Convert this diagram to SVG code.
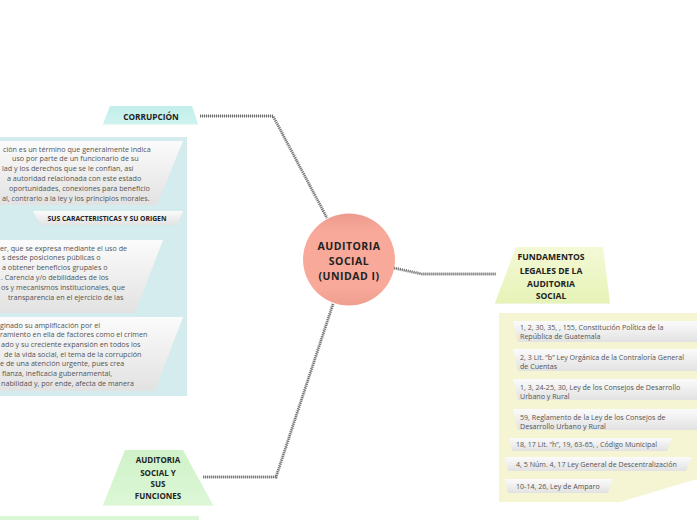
<svg xmlns="http://www.w3.org/2000/svg" width="697" height="520" viewBox="0 0 697 520">
<defs>
<linearGradient id="gBox" x1="0" y1="0" x2="0" y2="1"><stop offset="0" stop-color="#fbfbfb"/><stop offset="1" stop-color="#e2e2e2"/></linearGradient>
<linearGradient id="gCenter" x1="0" y1="0" x2="0" y2="1"><stop offset="0" stop-color="#ec9a8d"/><stop offset="0.2" stop-color="#f9a99a"/><stop offset="0.8" stop-color="#f9a99a"/><stop offset="1" stop-color="#ef9f90"/></linearGradient>
<linearGradient id="gCyan" x1="0" y1="0" x2="0" y2="1"><stop offset="0" stop-color="#c2eeea"/><stop offset="1" stop-color="#cff3ef"/></linearGradient>
<linearGradient id="gYel" x1="0" y1="0" x2="0" y2="1"><stop offset="0" stop-color="#f4f9d6"/><stop offset="1" stop-color="#e6f3b7"/></linearGradient>
<linearGradient id="gGrn" x1="0" y1="0" x2="0" y2="1"><stop offset="0" stop-color="#d0f2c9"/><stop offset="1" stop-color="#dcf7d6"/></linearGradient>
</defs>
<style>
.conn{fill:none;stroke:#6f6f6f;stroke-width:3;stroke-dasharray:1 1}
.conn2{fill:none;stroke:#b8b8b8;stroke-width:1}
.box{fill:url(#gBox)}
.t{font-family:"Open Sans","Noto Sans",sans-serif;font-size:7.2px;fill:#555}
.tr{font-family:"Open Sans","Noto Sans",sans-serif;font-size:7.1px;fill:#555}
.h{font-family:"Open Sans","Noto Sans",sans-serif;font-weight:bold;fill:#222;text-anchor:middle}
</style>
<g id="connectors">
<polyline class="conn2" points="200,116 273,116 327,218"/>
<polyline class="conn" points="200,116 273,116 327,218"/>
<polyline class="conn2" points="394,268 422,274 496,274"/>
<polyline class="conn" points="394,268 422,274 496,274"/>
<polyline class="conn2" points="333,304 276,477 203,477"/>
<polyline class="conn" points="333,304 276,477 203,477"/>
</g>
<g id="center">
<circle cx="349" cy="259.5" r="46" fill="url(#gCenter)"/>
<text class="h" font-size="10.5" letter-spacing="0.5"><tspan x="349" y="250">AUDITORIA</tspan><tspan x="349" y="265">SOCIAL</tspan><tspan x="349" y="280">(UNIDAD I)</tspan></text>
</g>
<g id="corrupcion">
<polygon points="110,106 192,106 198,124 103,124" fill="url(#gCyan)"/>
<line x1="103" y1="124.5" x2="198" y2="124.5" stroke="#e6f7f5" stroke-width="1"/>
<text class="h" x="151" y="119.5" font-size="8.3">CORRUPCIÓN</text>
</g>
<g id="corrupcion-panel">
<rect x="0" y="137" width="187" height="259" fill="#d4ecee"/>
<polygon class="box" points="-5,141 183,141 157,205 -5,205"/>
<text class="t"><tspan x="3" y="151.5">ción es un término que generalmente indica</tspan><tspan x="12" y="161.3">uso por parte de un funcionario de su</tspan><tspan x="2" y="171.1">lad y los derechos que se le confían, así</tspan><tspan x="7" y="180.9">a autoridad relacionada con este estado</tspan><tspan x="9" y="190.7">oportunidades, conexiones para beneficio</tspan><tspan x="2" y="200.5">al, contrario a la ley y los principios morales.</tspan></text>
<polygon class="box" points="33,211 183,211 177,225 40,225"/>
<text class="h" x="107" y="220.5" font-size="6.8">SUS CARACTERISTICAS Y SU ORIGEN</text>
<polygon class="box" points="-5,240 163,240 135,313 -5,313"/>
<text class="t"><tspan x="0" y="250.5">er, que se expresa mediante el uso de</tspan><tspan x="2" y="260.3">s desde posiciones públicas o</tspan><tspan x="2" y="270.1">a obtener beneficios grupales o</tspan><tspan x="1" y="279.9">. Carencia y/o debilidades de los</tspan><tspan x="1" y="289.7">os y mecanismos institucionales, que</tspan><tspan x="8" y="299.5">transparencia en el ejercicio de las</tspan></text>
<polygon class="box" points="-5,317 183,317 155,391 -5,391"/>
<text class="t"><tspan x="0" y="327.5">ginado su amplificación por el</tspan><tspan x="0" y="337.2">ramiento en ella de factores como el crimen</tspan><tspan x="1" y="346.9">ado y su creciente expansión en todos los</tspan><tspan x="4" y="356.6">de la vida social, el tema de la corrupción</tspan><tspan x="0" y="366.3">e de una atención urgente, pues crea</tspan><tspan x="2" y="376">fianza, ineficacia gubernamental,</tspan><tspan x="1" y="385.7">nabilidad y, por ende, afecta de manera</tspan></text>
</g>
<g id="fundamentos">
<polygon points="516,247 603,247 610,303 495,303" fill="url(#gYel)"/>
<line x1="495" y1="303.5" x2="610" y2="303.5" stroke="#eef5dc" stroke-width="1"/>
<text class="h" font-size="8.6"><tspan x="551" y="260">FUNDAMENTOS</tspan><tspan x="551" y="273.5">LEGALES DE LA</tspan><tspan x="551" y="287">AUDITORIA</tspan><tspan x="551" y="299">SOCIAL</tspan></text>
</g>
<g id="fundamentos-panel">
<polygon points="499,313 697,313 697,479 620,502 499,502" fill="#f5f4d3"/>
<polygon class="box" points="513,321 700,321 700,342 518,342"/>
<text class="tr"><tspan x="520" y="329.5">1, 2, 30, 35, , 155, Constitución Política de la</tspan><tspan x="520" y="338.5">República de Guatemala</tspan></text>
<polygon class="box" points="513,349 700,349 700,371 518,371"/>
<text class="tr"><tspan x="520" y="359.5">2, 3 Lit. “b” Ley Orgánica de la Contraloría General</tspan><tspan x="520" y="368.5">de Cuentas</tspan></text>
<polygon class="box" points="513,379 700,379 700,400 518,400"/>
<text class="tr"><tspan x="520" y="389.5">1, 3, 24-25, 30, Ley de los Consejos de Desarrollo</tspan><tspan x="520" y="398.5">Urbano y Rural</tspan></text>
<polygon class="box" points="513,409 700,409 700,430 518,430"/>
<text class="tr"><tspan x="520" y="419.5">59, Reglamento de la Ley de los Consejos de</tspan><tspan x="520" y="428.5">Desarrollo Urbano y Rural</tspan></text>
<polygon class="box" points="509,438 672,438 667,451 512,451"/>
<text class="tr" x="516" y="446.8">18, 17 Lit. “h”, 19, 63-65, , Código Municipal</text>
<polygon class="box" points="505,457 692,457 686,471 508,471"/>
<text class="tr" x="516" y="466.5">4, 5 Núm. 4, 17 Ley General de Descentralización</text>
<polygon class="box" points="505,479 613,479 608,493 508,493"/>
<text class="tr" x="516" y="488.5">10-14, 26, Ley de Amparo</text>
</g>
<g id="funciones">
<polygon points="125,450 183,450 213,505 103,505" fill="url(#gGrn)"/>
<line x1="103" y1="505.5" x2="213" y2="505.5" stroke="#e8f8e4" stroke-width="1"/>
<text class="h" font-size="8"><tspan x="158" y="463">AUDITORIA</tspan><tspan x="158" y="475.5">SOCIAL Y</tspan><tspan x="158" y="487">SUS</tspan><tspan x="158" y="499">FUNCIONES</tspan></text>
</g>
<g id="funciones-panel">
<rect x="0" y="516" width="199" height="4" fill="#d9f7d5"/>
</g>
</svg>
